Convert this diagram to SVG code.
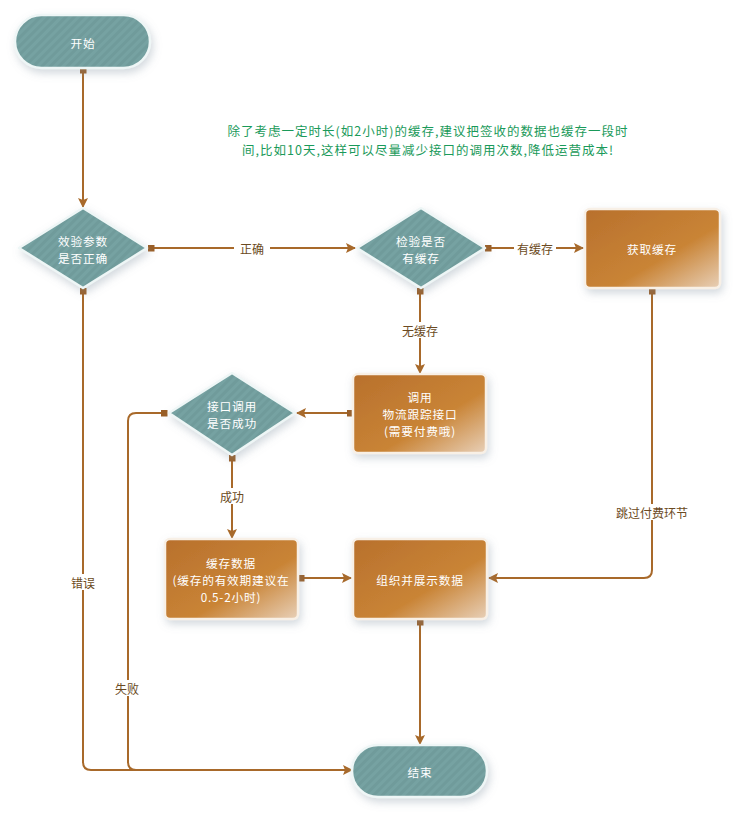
<svg xmlns="http://www.w3.org/2000/svg" width="745" height="823" viewBox="0 0 745 823">
<style>
.t{font-family:"Noto Sans CJK SC","Liberation Sans",sans-serif;font-size:11.7px;letter-spacing:0.8px;fill:#ffffff;text-anchor:middle;dominant-baseline:central}
.lb{font-family:"Noto Sans CJK SC","Liberation Sans",sans-serif;font-size:12px;fill:#6b4a22;text-anchor:middle;dominant-baseline:central}
.note{font-family:"Noto Sans CJK SC","Liberation Sans",sans-serif;font-size:12.5px;letter-spacing:1px;fill:#1a9a5a;text-anchor:middle;dominant-baseline:central}
.teal{fill:url(#stripe);stroke:#eef6f6;stroke-width:2.5;stroke-linejoin:round;filter:url(#sh)}
.org{fill:url(#og);stroke:#f8f0e6;stroke-width:2.5;filter:url(#sh)}
.c{fill:none;stroke:#a8692a;stroke-width:2}
.bg{fill:#ffffff}
</style>
<defs>
<filter id="sh" x="-20%" y="-20%" width="150%" height="160%">
<feDropShadow dx="2" dy="4" stdDeviation="4" flood-color="#8090a0" flood-opacity="0.35"/>
</filter>
<pattern id="stripe" width="6" height="6" patternUnits="userSpaceOnUse" patternTransform="rotate(45)">
<rect width="6" height="6" fill="#6f9b9b"/>
<rect width="3" height="6" fill="#76a2a2"/>
</pattern>
<linearGradient id="og" x1="0" y1="0" x2="1" y2="1">
<stop offset="0" stop-color="#b8702c"/>
<stop offset="0.6" stop-color="#c98436"/>
<stop offset="1" stop-color="#e8d0b8"/>
</linearGradient>
<marker id="ar" viewBox="0 0 10 10" refX="9" refY="5" markerWidth="10" markerHeight="10" markerUnits="userSpaceOnUse" orient="auto">
<path d="M0,0 L10,5 L0,10 L2,5 Z" fill="#a8692a"/>
</marker>
<marker id="sq" viewBox="0 0 8 8" refX="4" refY="4" markerWidth="7" markerHeight="7" markerUnits="userSpaceOnUse" orient="auto">
<rect width="8" height="8" fill="#9a5e26"/>
</marker>
</defs>

<g id="connectors">
<path class="c" d="M83,70 V207" marker-start="url(#sq)" marker-end="url(#ar)"/>
<path class="c" d="M151,248 H355" marker-start="url(#sq)" marker-end="url(#ar)"/>
<path class="c" d="M488,248 H583" marker-start="url(#sq)" marker-end="url(#ar)"/>
<path class="c" d="M652,291 V570 Q652,578 644,578 H489" marker-start="url(#sq)" marker-end="url(#ar)"/>
<path class="c" d="M420,291 V373" marker-start="url(#sq)" marker-end="url(#ar)"/>
<path class="c" d="M350,413 H297" marker-start="url(#sq)" marker-end="url(#ar)"/>
<path class="c" d="M232,458 V538" marker-start="url(#sq)" marker-end="url(#ar)"/>
<path class="c" d="M301,578 H351" marker-start="url(#sq)" marker-end="url(#ar)"/>
<path class="c" d="M420,622 V744" marker-start="url(#sq)" marker-end="url(#ar)"/>
<path class="c" d="M83,291 V762 Q83,770 91,770 H352" marker-start="url(#sq)" marker-end="url(#ar)"/>
<path class="c" d="M164,413 H136 Q128,413 128,421 V762 Q128,770 136,770 H300" marker-start="url(#sq)"/>
<rect class="bg" x="234" y="240" width="36" height="16"/>
<text class="lb" x="252" y="248">正确</text>
<rect class="bg" x="514" y="240" width="42" height="16"/>
<text class="lb" x="535" y="248">有缓存</text>
<rect class="bg" x="612" y="504" width="80" height="16"/>
<text class="lb" x="652" y="512">跳过付费环节</text>
<rect class="bg" x="399" y="322" width="42" height="16"/>
<text class="lb" x="420" y="330">无缓存</text>
<rect class="bg" x="214" y="488" width="36" height="16"/>
<text class="lb" x="232" y="496">成功</text>
<rect class="bg" x="67" y="574" width="32" height="16"/>
<text class="lb" x="83" y="582">错误</text>
<rect class="bg" x="111" y="680" width="32" height="16"/>
<text class="lb" x="127" y="688">失败</text>
</g>

<g id="note">
<text class="note" x="428" y="130">除了考虑一定时长(如2小时)的缓存,建议把签收的数据也缓存一段时</text>
<text class="note" x="428" y="149">间,比如10天,这样可以尽量减少接口的调用次数,降低运营成本!</text>
</g>

<g id="start">
<rect class="teal" x="15" y="15" width="135" height="53" rx="26.5"/>
<text class="t" x="83" y="42">开始</text>
</g>

<g id="check-params">
<polygon class="teal" points="83,208 147,248 83,288 19,248"/>
<text class="t" x="83" y="240">效验参数</text>
<text class="t" x="83" y="257">是否正确</text>
</g>

<g id="check-cache">
<polygon class="teal" points="421,208 485,248 421,288 357,248"/>
<text class="t" x="421" y="240">检验是否</text>
<text class="t" x="421" y="257">有缓存</text>
</g>

<g id="get-cache">
<rect class="org" x="585" y="209" width="135" height="79" rx="5"/>
<text class="t" x="652" y="248">获取缓存</text>
</g>

<g id="call-api">
<rect class="org" x="353" y="374" width="133" height="79" rx="5"/>
<text class="t" x="420" y="396">调用</text>
<text class="t" x="420" y="413">物流跟踪接口</text>
<text class="t" x="420" y="430">(需要付费哦)</text>
</g>

<g id="api-success">
<polygon class="teal" points="232,373 295,413 232,455 169,413"/>
<text class="t" x="232" y="405">接口调用</text>
<text class="t" x="232" y="422">是否成功</text>
</g>

<g id="cache-data">
<rect class="org" x="165" y="539" width="133" height="80" rx="5"/>
<text class="t" x="231" y="562">缓存数据</text>
<text class="t" x="231" y="579">(缓存的有效期建议在</text>
<text class="t" x="231" y="596">0.5-2小时)</text>
</g>

<g id="show-data">
<rect class="org" x="353" y="539" width="134" height="80" rx="5"/>
<text class="t" x="420" y="579">组织并展示数据</text>
</g>

<g id="end">
<rect class="teal" x="352" y="745" width="135" height="52" rx="26"/>
<text class="t" x="420" y="771">结束</text>
</g>
</svg>
